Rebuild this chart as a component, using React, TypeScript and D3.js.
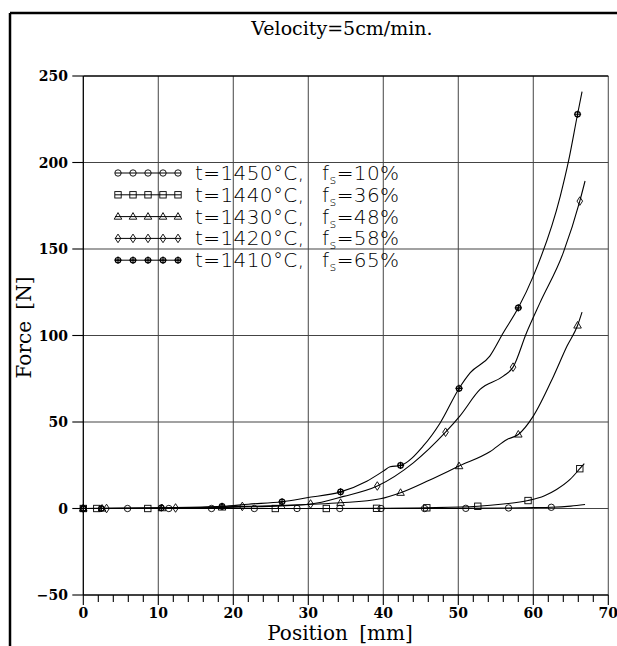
import React from "react";
import * as d3 from "d3";

// ---------- data ----------
const legendTemps = ["1450", "1440", "1430", "1420", "1410"];
const legendFs = ["10", "36", "48", "58", "65"];
const markerKinds = ["circle", "square", "triangle", "diamond", "plus"];

const xTicks = [0, 10, 20, 30, 40, 50, 60, 70];
const yTicks = [-50, 0, 50, 100, 150, 200, 250];

// curve points [position mm, force N]
const curve1450: [number, number][] = [
  [0, 0], [10, 0], [20, 0], [30, 0], [40, 0], [50, 0.1], [56, 0.3], [60, 0.5], [62.4, 0.7], [65, 1.4], [66.9, 2.3],
];
const curve1440: [number, number][] = [
  [0, 0], [20, 0], [32.4, 0], [39.1, 0.1], [45.8, 0.4], [52.6, 1.3], [56, 2.6], [59.3, 4.6], [61.5, 7.4], [63.1, 11],
  [64.9, 16.8], [66.2, 23], [66.8, 26],
];
const curve1430: [number, number][] = [
  [0, 0], [10.5, 0.2], [18.5, 0.6], [26.4, 1.5], [30, 2.3], [34.3, 3.3], [39.6, 5.6], [42.3, 9.1], [46.2, 16.5],
  [50.1, 24.5], [54.2, 32.8], [56.5, 39.9], [58, 42.8], [60, 53.4], [62.7, 76.5], [64.5, 93.9], [65.9, 105.8],
  [66.5, 113.5],
];
const curve1420: [number, number][] = [
  [0, 0], [12.3, 0.3], [21.2, 1.2], [26, 1.7], [30.3, 2.6], [34.7, 7], [39.2, 13], [44, 26.4], [48.3, 44.1],
  [50.2, 53.4], [52.9, 68.8], [56, 76.5], [57.3, 81.7], [59.1, 101.6], [60.9, 119], [64, 147.9], [66.2, 177.7],
  [66.9, 189.3],
];
const curve1410: [number, number][] = [
  [0, 0], [10.4, 0.4], [18.5, 1.2], [22, 2.5], [26.5, 3.9], [29.8, 6.2], [34.3, 9.6], [37.8, 15.8], [40, 21.6],
  [40.9, 24.1], [42.3, 24.9], [45.3, 36], [47.6, 49.6], [50.1, 69.4], [51.6, 78.5], [54.2, 88.1], [56, 101.6],
  [58, 116], [60, 134.3], [63.6, 180.6], [64.7, 200.9], [65.9, 227.9], [66.5, 241],
];

// marker points
const marks1450X = [0, 5.9, 11.4, 17.1, 22.8, 28.5, 34.2, 39.7, 45.5, 51.0, 56.7, 62.4];
const marks1450Y = [0, 0, 0, 0, 0, 0, 0, 0, 0, 0.1, 0.3, 0.7];
const marks1440X = [0, 1.8, 8.6, 25.6, 32.4, 39.1, 45.8, 52.6, 59.3, 66.2];
const marks1440Y = [0, 0, 0, 0, 0, 0.1, 0.4, 1.3, 4.6, 23];
const marks1430X = [0, 2.5, 10.5, 18.5, 26.4, 34.3, 42.3, 50.1, 58, 65.9];
const marks1430Y = [0, 0, 0.2, 0.6, 1.5, 3.3, 9.1, 24.5, 42.8, 105.8];
const marks1420X = [0, 3.1, 12.3, 21.2, 30.3, 39.2, 48.3, 57.3, 66.2];
const marks1420Y = [0, 0, 0.3, 1.2, 2.6, 13, 44.1, 81.7, 177.7];
const marks1410X = [0, 2.4, 10.4, 18.5, 26.5, 34.3, 42.3, 50.1, 58, 65.9];
const marks1410Y = [0, 0, 0.4, 1.2, 3.9, 9.6, 24.9, 69.4, 116, 227.9];

const curves = [curve1450, curve1440, curve1430, curve1420, curve1410];
const marksX = [marks1450X, marks1440X, marks1430X, marks1420X, marks1410X];
const marksY = [marks1450Y, marks1440Y, marks1430Y, marks1420Y, marks1410Y];

// ---------- layout ----------
const W = 617;
const H = 646;
const x = d3.scaleLinear().domain([0, 70]).range([83.3, 608.3]);
const y = d3.scaleLinear().domain([-50, 250]).range([595, 76]);

const serif = "'DejaVu Serif', 'Liberation Serif', serif";
const sans = "'DejaVu Sans', 'Liberation Sans', sans-serif";

function Marker({ kind, cx, cy }: { kind: string; cx: number; cy: number }) {
  const s = { fill: "none", stroke: "#000", strokeWidth: 0.9 };
  if (kind === "circle") return <circle cx={cx} cy={cy} r={3.2} {...s} />;
  if (kind === "square") return <rect x={cx - 3.2} y={cy - 3.2} width={6.4} height={6.4} {...s} />;
  if (kind === "triangle")
    return <path d={`M${cx},${cy - 4} L${cx + 3.8},${cy + 2.6} L${cx - 3.8},${cy + 2.6} Z`} {...s} />;
  if (kind === "diamond")
    return <path d={`M${cx},${cy - 4.3} L${cx + 2.8},${cy} L${cx},${cy + 4.3} L${cx - 2.8},${cy} Z`} {...s} />;
  return (
    <g>
      <circle cx={cx} cy={cy} r={2.7} fill="none" stroke="#000" strokeWidth={1.2} />
      <path
        d={`M${cx - 3.6},${cy} L${cx + 3.6},${cy} M${cx},${cy - 3.6} L${cx},${cy + 3.6}`}
        stroke="#000"
        strokeWidth={1.2}
      />
    </g>
  );
}

export default function App() {
  const line = d3
    .line<[number, number]>()
    .x((d) => x(d[0]))
    .y((d) => y(d[1]))
    .curve(d3.curveMonotoneX);

  const minorX = d3.range(0, 70.01, 2);
  const legendY0 = 173;
  const legendDy = 21.8;
  const legendMarkX = [118, 133, 148, 163, 178];

  return (
    <svg
      width={W}
      height={H}
      style={{ position: "absolute", left: 0, top: 0, background: "#fff" }}
    >
      <rect x={0} y={0} width={W} height={H} fill="#fff" />
      {/* outer frame */}
      <line x1={10} y1={13} x2={W} y2={13} stroke="#000" strokeWidth={2.5} />
      <line x1={10} y1={13} x2={10} y2={H} stroke="#000" strokeWidth={2.5} />

      {/* title */}
      <text x={342} y={35} textAnchor="middle" fontFamily={serif} fontSize={19}>
        Velocity=5cm/min.
      </text>

      {/* grid */}
      {xTicks.slice(1).map((t) => (
        <line key={"gx" + t} x1={x(t)} x2={x(t)} y1={y(250)} y2={y(-50)} stroke="#555" strokeWidth={1.1} />
      ))}
      {yTicks.slice(1, -1).map((t) => (
        <line key={"gy" + t} x1={x(0)} x2={x(70)} y1={y(t)} y2={y(t)} stroke="#444" strokeWidth={1.1} />
      ))}
      <line x1={x(0)} x2={x(70)} y1={y(250)} y2={y(250)} stroke="#000" strokeWidth={1.3} />

      {/* axes */}
      <line x1={x(0)} x2={x(0)} y1={y(250)} y2={y(-50)} stroke="#000" strokeWidth={1.3} />
      <line x1={x(0)} x2={x(70)} y1={y(-50)} y2={y(-50)} stroke="#000" strokeWidth={1.3} />
      {minorX.map((t) => (
        <line
          key={"mx" + t}
          x1={x(t)}
          x2={x(t)}
          y1={y(-50)}
          y2={y(-50) + (t % 10 === 0 ? 10 : 7)}
          stroke="#000"
          strokeWidth={1.1}
        />
      ))}
      {yTicks.map((t) => (
        <line key={"ty" + t} x1={x(0) - 11} x2={x(0)} y1={y(t)} y2={y(t)} stroke="#000" strokeWidth={1.1} />
      ))}
      {xTicks.map((t) => (
        <text
          key={"lx" + t}
          x={x(t)}
          y={618}
          textAnchor="middle"
          fontFamily={serif}
          fontWeight="bold"
          fontSize={14}
        >
          {d3.format("d")(t)}
        </text>
      ))}
      {yTicks.map((t) => (
        <text
          key={"ly" + t}
          x={68}
          y={y(t) + 5}
          textAnchor="end"
          fontFamily={serif}
          fontWeight="bold"
          fontSize={14}
        >
          {d3.format("d")(t)}
        </text>
      ))}
      <text x={340} y={640} textAnchor="middle" fontFamily={serif} fontSize={20} wordSpacing={5}>
        Position [mm]
      </text>
      <text
        transform={`translate(31,${(y(250) + y(-50)) / 2 - 8}) rotate(-90)`}
        textAnchor="middle"
        fontFamily={serif}
        fontSize={20}
        wordSpacing={5}
      >
        Force [N]
      </text>

      {/* curves */}
      {curves.map((c, i) => (
        <path key={"c" + i} d={line(c) || ""} fill="none" stroke="#000" strokeWidth={1.1} />
      ))}
      {marksX.map((xs, i) =>
        xs.map((mx, j) => <Marker key={`m${i}-${j}`} kind={markerKinds[i]} cx={x(mx)} cy={y(marksY[i][j])} />)
      )}

      {/* legend */}
      {legendTemps.map((t, i) => {
        const ly = legendY0 + i * legendDy;
        return (
          <g key={"lg" + i}>
            <line x1={115} x2={181} y1={ly} y2={ly} stroke="#000" strokeWidth={1} />
            {legendMarkX.map((lx, j) => (
              <Marker key={j} kind={markerKinds[i]} cx={lx} cy={ly} />
            ))}
            <text x={195} y={ly + 7} fontFamily={sans} fontWeight={200} fontSize={20} letterSpacing={0.4}>
              {`t=${t}°C,`}
            </text>
            <text x={322} y={ly + 7} fontFamily={sans} fontWeight={200} fontSize={20} letterSpacing={0.4}>
              f
              <tspan fontSize={13} dy={4}>
                s
              </tspan>
              <tspan dy={-4}>{`=${legendFs[i]}%`}</tspan>
            </text>
          </g>
        );
      })}
    </svg>
  );
}
